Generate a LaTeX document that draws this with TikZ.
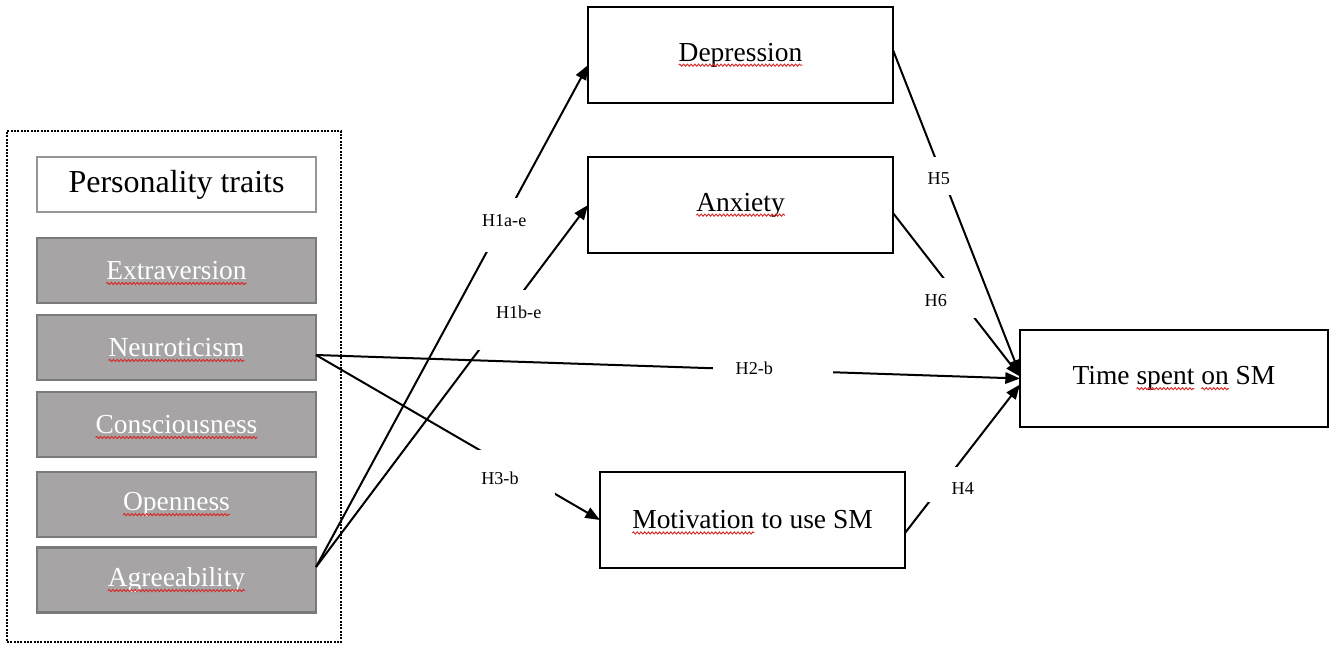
\documentclass[tikz,border=0pt]{standalone}
\usepackage{fontspec}
\setmainfont{Liberation Serif}
\usetikzlibrary{arrows.meta,decorations.pathmorphing}
\definecolor{traitfill}{RGB}{166,164,164}
\definecolor{traitborder}{RGB}{122,122,122}
\definecolor{titleborder}{RGB}{150,150,150}
\definecolor{squigcol}{RGB}{215,40,40}
\newcommand\lbl[3]{\makebox[#1][l]{\hspace*{#2}#3}}
\newcommand\nfont{\fontsize{20.6}{24}\selectfont}
% measure a text in the node font into length \w<name>
\newcommand\mw[2]{\expandafter\newlength\csname w#1\endcsname
  \expandafter\settowidth\csname w#1\endcsname{\nfont #2}}
% #1 node, #2 full width, #3 width before the word, #4 word width
\newcommand\sqmark[4]{%
  \draw[squiggle] ([xshift=-0.5*#2+#3, yshift=-3pt]#1.base) -- ++(#4,0pt);%
}
\begin{document}
\mw{Ext}{Extraversion}\mw{Neu}{Neuroticism}\mw{Con}{Consciousness}%
\mw{Ope}{Openness}\mw{Agr}{Agreeability}\mw{Dep}{Depression}%
\mw{Anx}{Anxiety}\mw{Mot}{Motivation to use SM}\mw{Motw}{Motivation}%
\mw{Tim}{Time spent on SM}\mw{Timp}{Time }\mw{Spe}{spent}%
\mw{Timq}{Time spent }\mw{On}{on}\mw{Zero}{}%
\begin{tikzpicture}[x=0.75pt,y=-0.75pt,
  every node/.style={inner sep=0pt, outer sep=0pt},
  box/.style={draw=black, line width=2pt, fill=white, minimum width=228.75pt, minimum height=72pt, font=\nfont},
  trait/.style={draw=traitborder, line width=2.2pt, fill=traitfill, text=white, minimum width=209.25pt, minimum height=48.75pt, font=\nfont},
  titlebox/.style={draw=titleborder, line width=1.2pt, fill=white, minimum width=209.25pt, minimum height=41.25pt, font=\fontsize{24}{28}\selectfont},
  framebox/.style={draw=black, line width=1.4pt, dash pattern=on 1.4pt off 1.1pt, minimum width=250.5pt, minimum height=383.25pt},
  conn/.style={line width=1.5pt, -{Triangle[length=11pt,width=8.5pt]}},
  lab/.style={fill=white, inner sep=0pt, anchor=base west, font=\fontsize{13.6}{16}\selectfont},
  squiggle/.style={draw=squigcol, line width=0.7pt, decorate, decoration={snake, amplitude=0.8pt, segment length=2.8pt}}
]
\useasboundingbox[fill=white] (0,0) rectangle (1335,653);
\node[framebox] (frm) at (174,386.5) {};
\node[titlebox] (pt) at (176.5,184.5) {Personality traits};
\node[trait] (ext) at (176.5,270.5) {Extraversion};
\node[trait] (neu) at (176.5,347.5) {Neuroticism};
\node[trait] (con) at (176.5,424.5) {Consciousness};
\node[trait] (ope) at (176.5,504.5) {Openness};
\node[trait] (agr) at (176.5,580) {Agreeability};
\node[box] (dep) at (740.5,55) {Depression};
\node[box] (anx) at (740.5,205) {Anxiety};
\node[box, minimum width=231pt, minimum height=72.75pt] (time) at (1174,378.5) {Time spent on SM};
\node[box] (mot) at (752.5,520) {Motivation to use SM};

\sqmark{ext}{\wExt}{\wZero}{\wExt}
\sqmark{neu}{\wNeu}{\wZero}{\wNeu}
\sqmark{con}{\wCon}{\wZero}{\wCon}
\sqmark{ope}{\wOpe}{\wZero}{\wOpe}
\sqmark{agr}{\wAgr}{\wZero}{\wAgr}
\sqmark{dep}{\wDep}{\wZero}{\wDep}
\sqmark{anx}{\wAnx}{\wZero}{\wAnx}
\sqmark{mot}{\wMot}{\wZero}{\wMotw}
\sqmark{time}{\wTim}{\wTimp}{\wSpe}
\sqmark{time}{\wTim}{\wTimq}{\wOn}

\draw[conn] ([yshift=9.75pt]agr.east) -- ([yshift=-7.5pt]dep.west);
\draw[conn] ([yshift=9.75pt]agr.east) -- (anx.west);
\draw[conn] ([yshift=-5.625pt]neu.east) -- (time.west);
\draw[conn] ([yshift=-5.625pt]neu.east) -- (mot.west);
\draw[conn] ([yshift=-9.75pt]mot.east) -- ([yshift=-4.5pt]time.west);
\draw[conn] ([yshift=3.75pt]dep.east) -- ([yshift=3pt]time.west);
\draw[conn] ([yshift=-6pt]anx.east) -- ([yshift=1.5pt]time.west);

\node[lab, text height=21pt, text depth=19.5pt] (l1a) at (480,226) {\lbl{37.5pt}{1.5pt}{H1a-e}};
\node[lab, text height=21pt, text depth=24pt] (l1b) at (476,318) {\lbl{54pt}{15pt}{H1b-e}};
\node[lab, text height=10.5pt, text depth=6pt] (l2) at (713,374) {\lbl{90pt}{17pt}{H2-b}};
\node[lab, text height=25.5pt, text depth=12pt] (l3) at (472,484) {\lbl{62.25pt}{7pt}{H3-b}};
\node[lab, text height=20.25pt, text depth=6pt] (l4) at (925,494) {\lbl{37.5pt}{20pt}{H4}};
\node[lab, text height=20.25pt, text depth=8.25pt] (l5) at (925,184) {\lbl{22.5pt}{2pt}{H5}};
\node[lab, text height=21pt, text depth=9pt] (l6) at (922,306) {\lbl{42pt}{2pt}{H6}};
\end{tikzpicture}
\end{document}
